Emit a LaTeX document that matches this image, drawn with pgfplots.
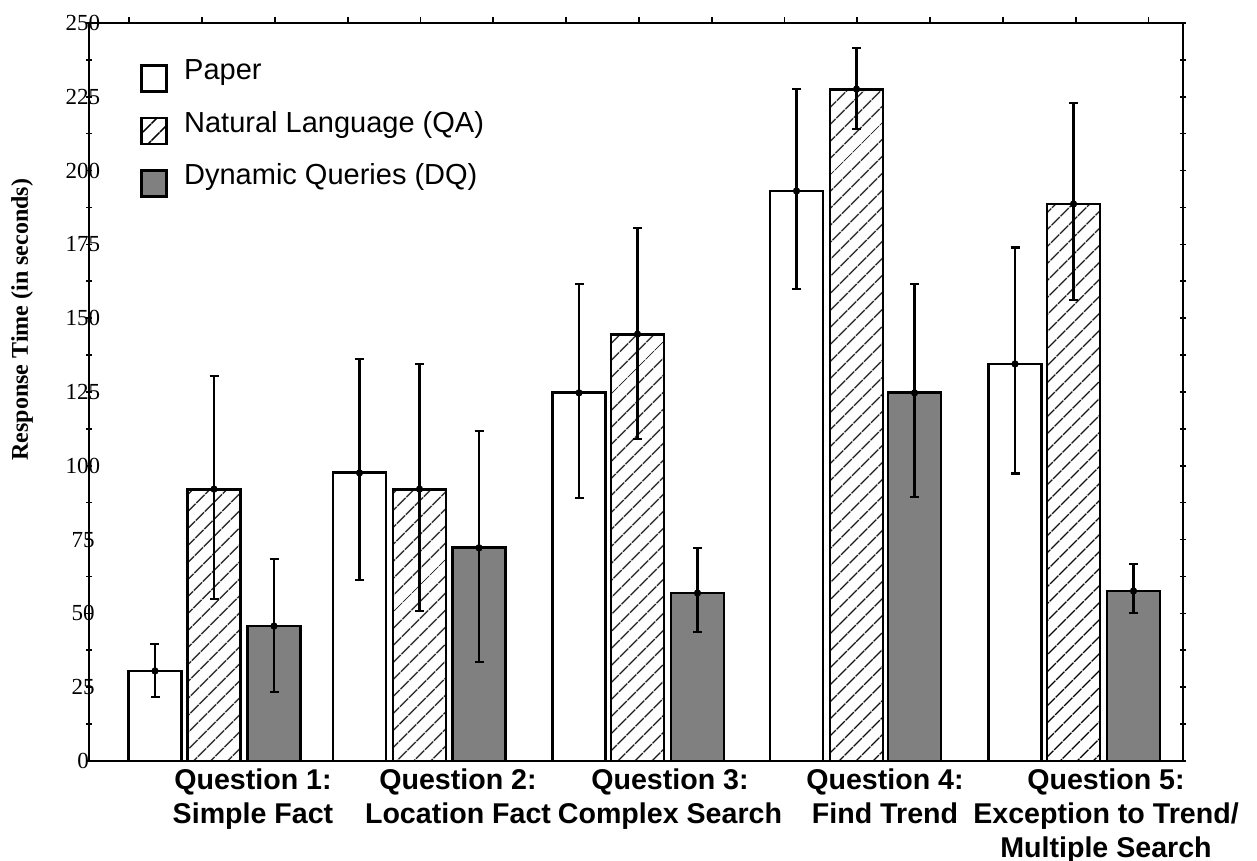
\documentclass[border=0pt]{standalone}
\usepackage{pgfplots}
\pgfplotsset{compat=1.18}
\usepackage{pgfplotstable}
\usepackage{fontspec}
\setmainfont{Liberation Serif}
\newfontfamily\arialfont{Liberation Sans}
\usetikzlibrary{patterns.meta}

\pgfplotstableread{
x y ep em
155 30.5 9.1 8.8
359.5 97.6 38.6 36.3
579 124.7 36.9 35.6
796.5 193.1 34.5 33.2
1015 134.5 39.5 37.1
}\paper
\pgfplotstableread{
x y ep em
214 92.1 38.3 37.2
419.5 92.1 42.4 41.3
637.5 144.6 36.0 35.5
856.5 227.6 13.9 13.5
1073.5 188.7 34.2 32.5
}\nl
\pgfplotstableread{
x y ep em
274 45.7 22.7 22.3
479 72.2 39.6 38.7
697.5 56.9 15.3 13.2
914.5 124.7 36.9 35.3
1133.5 57.6 9.1 7.5
}\dq

\begin{document}
\begin{tikzpicture}
\begin{axis}[
  at={(44.5pt,50pt)}, anchor=south west,
  scale only axis, width=547pt, height=369pt,
  xmin=89, xmax=1183, ymin=0, ymax=250,
  axis line style={line width=1.4pt},
  xtick={253,458,670,885,1106},
  xticklabels={{Question 1:\\Simple Fact},{Question 2:\\Location Fact},{Question 3:\\Complex Search},{Question 4:\\Find Trend},{Question 5:\\Exception to Trend/\\Multiple Search}},
  xticklabel style={align=center, font=\arialfont\bfseries\fontsize{14.3}{17}\selectfont, inner sep=3.5pt},
  xtick pos=left, x tick style={draw=none},
  ytick={0,25,...,250}, minor y tick num=1,
  ytick pos=both, ytick align=center,
  major tick length=3pt, minor tick length=3pt,
  y tick style={line width=0.8pt, black},
  minor y tick style={line width=0.8pt, black},
  /pgf/number format/assume math mode=true,
  yticklabel style={anchor=center, xshift=-1.5pt, font=\fontsize{11.5}{12}\selectfont},
  ylabel={\bfseries Response Time (in seconds)},
  ylabel style={at={(axis description cs:-0.0612,0.598)}, anchor=center, font=\fontsize{12}{14}\selectfont},
  legend style={at={(axis description cs:0.0466,0.951)}, anchor=north west, draw=none, fill=none,
    font=\arialfont\fontsize{14.5}{16}\selectfont, row sep=9.25pt, column sep=8pt, inner sep=0pt,
    nodes={inner sep=0pt}},
  legend cell align=left,
  legend image code/.code={\draw[#1, line width=1.4pt] (0pt,-10.25pt) rectangle (12.5pt,2.75pt);},
]
\addplot[ybar, bar width=53, bar shift=0pt, draw=black, line width=1.4pt, fill=white,
  mark=*, mark size=1.6pt, mark options={fill=black, draw=black, line width=0.4pt},
  error bars/.cd, y dir=both, y explicit,
  error bar style={line width=1.2pt, black},
  error mark options={rotate=90, line width=1.2pt, mark size=2.25pt, black}]
  table[x=x, y=y, y error plus=ep, y error minus=em]{\paper};
\addlegendentry{Paper}
\addplot[ybar, bar width=53, bar shift=0pt, draw=black, line width=1.4pt,
  pattern={Lines[angle=45, distance=6.5pt, line width=0.8pt]}, pattern color=black,
  mark=*, mark size=1.6pt, mark options={fill=black, draw=black, line width=0.4pt},
  error bars/.cd, y dir=both, y explicit,
  error bar style={line width=1.2pt, black},
  error mark options={rotate=90, line width=1.2pt, mark size=2.25pt, black}]
  table[x=x, y=y, y error plus=ep, y error minus=em]{\nl};
\addlegendentry{Natural Language (QA)}
\addplot[ybar, bar width=53, bar shift=0pt, draw=black, line width=1.4pt, fill=black!50,
  mark=*, mark size=1.6pt, mark options={fill=black, draw=black, line width=0.4pt},
  error bars/.cd, y dir=both, y explicit,
  error bar style={line width=1.2pt, black},
  error mark options={rotate=90, line width=1.2pt, mark size=2.25pt, black}]
  table[x=x, y=y, y error plus=ep, y error minus=em]{\dq};
\addlegendentry{Dynamic Queries (DQ)}
\end{axis}
\begin{axis}[
  at={(44.5pt,50pt)}, anchor=south west,
  scale only axis, width=547pt, height=369pt,
  xmin=89, xmax=1183, ymin=0, ymax=250,
  axis line style={line width=1.4pt},
  xtick={129.3,202.1,274.9,347.7,420.5,493.3,566.1,638.9,711.7,784.5,857.3,930.1,1002.9,1075.7,1148.5},
  xticklabels={}, xtick pos=right, xtick align=outside,
  major tick length=3pt, x tick style={line width=0.9pt, black},
  ytick=\empty,
]
\end{axis}
\pgfresetboundingbox
\path[use as bounding box] (0,0) rectangle (628.5pt,430.5pt);
\end{tikzpicture}
\end{document}
